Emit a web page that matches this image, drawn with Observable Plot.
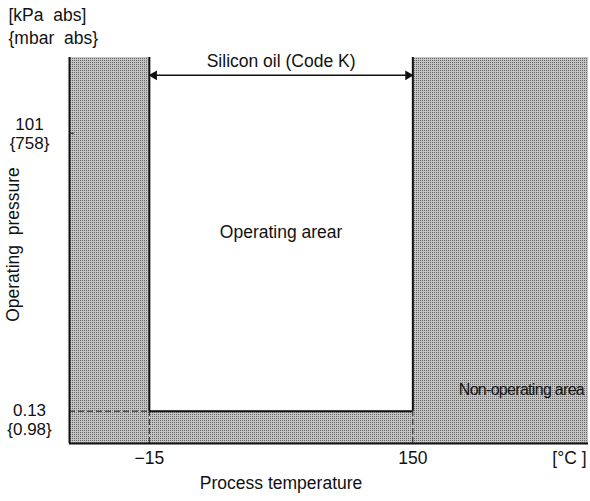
<!DOCTYPE html>
<html>
<head>
<meta charset="utf-8">
<script src="https://cdn.jsdelivr.net/npm/d3@7"></script>
<script src="https://cdn.jsdelivr.net/npm/@observablehq/plot@0.6"></script>
<style>
  html, body { margin: 0; padding: 0; background: #fff; }
  #chart svg { display: block; }
  .narrow text { letter-spacing: -0.7px; }
</style>
</head>
<body>
<div id="chart"></div>
<script>
// ---- data ----
const xDomain = [-65, 260];          // process temperature [°C]
const yDomain = [0.06, 620];         // operating pressure [kPa abs], log
const tempRange = [-15, 150];        // operating temperature limits
const pressureMin = 0.13;            // minimum operating pressure
const xTicks = [-15, 150];
const xTickLabels = ["\u221215", "150"];
const yTicks = [101, 0.13];
const yTickKpa = ["101", "0.13"];
const yTickMbar = ["{758}", "{0.98}"];
const arrowPressure = 405;
const labels = [
  {x: 67.5, y: 560, text: "Silicon oil (Code K)"},
  {x: 67.5, y: 9.4, text: "Operating arear"}
];
const outsideLabel = [{x: 218, y: 0.215, text: "Non-operating area"}];

const font = "'Liberation Sans', Arial, sans-serif";
const fs = 17.5;

const plot = Plot.plot({
  width: 590,
  height: 501,
  marginLeft: 69,
  marginRight: 2,
  marginTop: 57,
  marginBottom: 58,
  style: {fontFamily: font, fontSize: fs + "px", color: "#111", background: "#fff"},
  x: {type: "linear", domain: xDomain, axis: null},
  y: {type: "log", domain: yDomain, axis: null},
  marks: [
    // non-operating (stippled) area
    Plot.rect([0], {x1: xDomain[0], x2: xDomain[1], y1: yDomain[0], y2: yDomain[1], fill: "url(#stipple)"}),
    // operating area
    Plot.rect([0], {x1: tempRange[0], x2: tempRange[1], y1: pressureMin, y2: yDomain[1], fill: "white"}),
    // dashed guide lines
    Plot.ruleY([pressureMin], {x1: xDomain[0], x2: tempRange[0], stroke: "#222", strokeWidth: 1, strokeDasharray: "6,3"}),
    Plot.ruleX(tempRange, {y1: yDomain[0], y2: pressureMin, stroke: "#222", strokeWidth: 1, strokeDasharray: "6,3"}),
    // operating area borders
    Plot.ruleX(tempRange, {y1: pressureMin, y2: yDomain[1], stroke: "#111", strokeWidth: 2}),
    Plot.ruleY([pressureMin], {x1: tempRange[0], x2: tempRange[1], stroke: "#111", strokeWidth: 2}),
    // frame left + bottom
    Plot.ruleX([xDomain[0]], {stroke: "#111", strokeWidth: 2}),
    Plot.ruleY([yDomain[0]], {stroke: "#111", strokeWidth: 2}),
    // tick at 101
    Plot.ruleY([101], {x1: xDomain[0], x2: xDomain[0] + 3, stroke: "#222", strokeWidth: 1}),
    // double-headed arrow
    Plot.ruleY([arrowPressure], {x1: tempRange[0] + 4, x2: tempRange[1] - 4, stroke: "#111", strokeWidth: 1.5}),
    Plot.dot([{x: tempRange[0] + 3, r: -90}, {x: tempRange[1] - 3, r: 90}], {
      x: "x", y: () => arrowPressure, symbol: "triangle", r: 3.6, rotate: "r",
      fill: "#111", stroke: "none"
    }),
    // labels in plot
    Plot.text(labels, {x: "x", y: "y", text: "text", fontSize: fs, fill: "#111"}),
    Plot.text(outsideLabel, {x: "x", y: "y", text: "text", fontSize: 16, fill: "#111", className: "narrow"}),
    // x tick labels
    Plot.text(xTicks, {x: d => d, frameAnchor: "bottom", dy: 20, text: (d, i) => xTickLabels[i], fontSize: fs, fill: "#111"}),
    Plot.text(["[\u00b0C ]"], {frameAnchor: "bottom-right", dx: -2, dy: 20, fontSize: fs, fill: "#111"}),
    // x axis title
    Plot.text(["Process temperature"], {x: () => 67.5, frameAnchor: "bottom", dy: 45, fontSize: fs, fill: "#111"}),
    // y tick labels (two lines)
    Plot.text([yTicks[0]], {y: d => d, frameAnchor: "left", dx: -40, text: () => yTickKpa[0] + "\n" + yTickMbar[0], lineHeight: 1.12, textAnchor: "middle", fontSize: 17, fill: "#111"}),
    Plot.text([yTicks[1]], {y: d => d, frameAnchor: "left", dx: -40, dy: 8, text: () => yTickKpa[1] + "\n" + yTickMbar[1], lineHeight: 1.12, textAnchor: "middle", fontSize: 17, fill: "#111"}),
    // y axis title
    Plot.text(["Operating  pressure"], {frameAnchor: "left", dx: -56, dy: -6, rotate: -90, textAnchor: "middle", fontSize: 17.5, fill: "#111"}),
    // unit labels
    Plot.text(["[kPa  abs]"], {frameAnchor: "top-left", dx: -61, dy: -49, textAnchor: "start", fontSize: fs, fill: "#111"}),
    Plot.text(["{mbar  abs}"], {frameAnchor: "top-left", dx: -61, dy: -26, textAnchor: "start", fontSize: fs, fill: "#111"})
  ]
});

// stipple pattern for the non-operating area
const ns = "http://www.w3.org/2000/svg";
const defs = document.createElementNS(ns, "defs");
const pat = document.createElementNS(ns, "pattern");
pat.setAttribute("id", "stipple");
pat.setAttribute("patternUnits", "userSpaceOnUse");
pat.setAttribute("width", "4");
pat.setAttribute("height", "4");
const bg = document.createElementNS(ns, "rect");
bg.setAttribute("width", "4"); bg.setAttribute("height", "4"); bg.setAttribute("fill", "#c4c4c4");
pat.appendChild(bg);
[[0,0],[2,2],[2,0],[0,2]].forEach(([px, py]) => {
  const r = document.createElementNS(ns, "rect");
  r.setAttribute("x", px); r.setAttribute("y", py);
  r.setAttribute("width", "1"); r.setAttribute("height", "1");
  r.setAttribute("fill", "#666");
  pat.appendChild(r);
});
defs.appendChild(pat);
plot.insertBefore(defs, plot.firstChild);

document.getElementById("chart").appendChild(plot);
</script>
</body>
</html>
